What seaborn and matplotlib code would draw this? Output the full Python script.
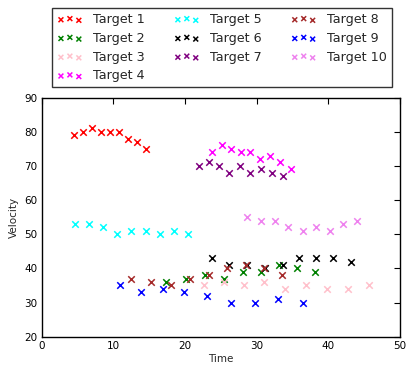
import matplotlib
matplotlib.use("Agg")
import matplotlib.pyplot as plt
import seaborn as sns
import pandas as pd

# values
names = ["Target %d" % i for i in range(1, 11)]
colors = ["red", "green", "pink", "magenta", "cyan", "black", "purple", "brown", "blue", "violet"]

t1_x = [4.5, 5.7, 7.0, 8.3, 9.5, 10.8, 12.0, 13.3, 14.6]
t1_y = [79, 80, 81, 80, 80, 80, 78, 77, 75]
t2_x = [17.4, 20.1, 22.8, 25.5, 28.1, 30.6, 33.1, 35.6, 38.2]
t2_y = [36, 37, 38, 37, 39, 39, 41, 40, 39]
t3_x = [22.6, 25.4, 28.2, 31.0, 34.0, 36.9, 39.8, 42.8, 45.7]
t3_y = [35, 36, 35, 36, 34, 35, 34, 34, 35]
t4_x = [23.7, 25.1, 26.4, 27.8, 29.1, 30.5, 31.8, 33.3, 34.8]
t4_y = [74, 76, 75, 74, 74, 72, 73, 71, 69]
t5_x = [4.7, 6.6, 8.5, 10.5, 12.5, 14.5, 16.5, 18.5, 20.4]
t5_y = [53, 53, 52, 50, 51, 51, 50, 51, 50]
t6_x = [23.8, 26.2, 28.7, 31.1, 33.6, 35.9, 38.3, 40.6, 43.1]
t6_y = [43, 41, 41, 40, 41, 43, 43, 43, 42]
t7_x = [21.9, 23.3, 24.8, 26.2, 27.6, 29.1, 30.6, 32.1, 33.6]
t7_y = [70, 71, 70, 68, 70, 68, 69, 68, 67]
t8_x = [12.4, 15.2, 18.0, 20.7, 23.4, 25.9, 28.5, 31.0, 33.5]
t8_y = [37, 36, 35, 37, 38, 40, 41, 40, 38]
t9_x = [10.9, 13.9, 16.9, 19.9, 23.1, 26.4, 29.7, 33.0, 36.4]
t9_y = [35, 33, 34, 33, 32, 30, 30, 31, 30]
t10_x = [28.7, 30.6, 32.5, 34.4, 36.4, 38.3, 40.2, 42.1, 44.0]
t10_y = [55, 54, 54, 52, 51, 52, 51, 53, 54]

xs = [t1_x, t2_x, t3_x, t4_x, t5_x, t6_x, t7_x, t8_x, t9_x, t10_x]
ys = [t1_y, t2_y, t3_y, t4_y, t5_y, t6_y, t7_y, t8_y, t9_y, t10_y]

sns.set_style("white")
plt.rcParams["font.family"] = ["DejaVu Sans"]

fig = plt.figure(figsize=(4.15, 3.75), dpi=100)
ax = fig.add_axes([0.1005, 0.102, 0.8635, 0.638])

# one scatter per target so the legend gets PathCollection handles (3 markers each)
for name, col, x, y in zip(names, colors, xs, ys):
    d = pd.DataFrame({"Time": x, "Velocity": y})
    sns.scatterplot(data=d, x="Time", y="Velocity", color=col, marker="x",
                    s=22, linewidth=1.1, label=name, legend=False, ax=ax)

ax.set_xlim(0, 50)
ax.set_ylim(20, 90)
ax.set_xticks(range(0, 51, 10))
ax.set_yticks(range(20, 91, 10))
ax.tick_params(direction="in", top=True, right=True, length=4, width=0.8,
               labelsize=7.5, colors="black", pad=3)
for sp in ax.spines.values():
    sp.set_color("black")
    sp.set_linewidth(1)
ax.set_xlabel("Time", fontsize=7.5, labelpad=2)
ax.set_ylabel("Velocity", fontsize=7.5, labelpad=4)

handles, labels = ax.get_legend_handles_labels()
leg = fig.legend(handles, labels, loc="upper left", bbox_to_anchor=(52 / 415, 1 - 8 / 375),
                 ncol=3, fontsize=9.2, scatterpoints=3, scatteryoffsets=[0.375, 0.5, 0.3125],
                 markerscale=0.75, frameon=True, fancybox=False, edgecolor="black",
                 borderpad=0.4, labelspacing=0.45, columnspacing=2.3, handletextpad=0.8,
                 handlelength=2.0, borderaxespad=0)
leg.get_frame().set_linewidth(1)

fig.savefig("out.png", dpi=100)
